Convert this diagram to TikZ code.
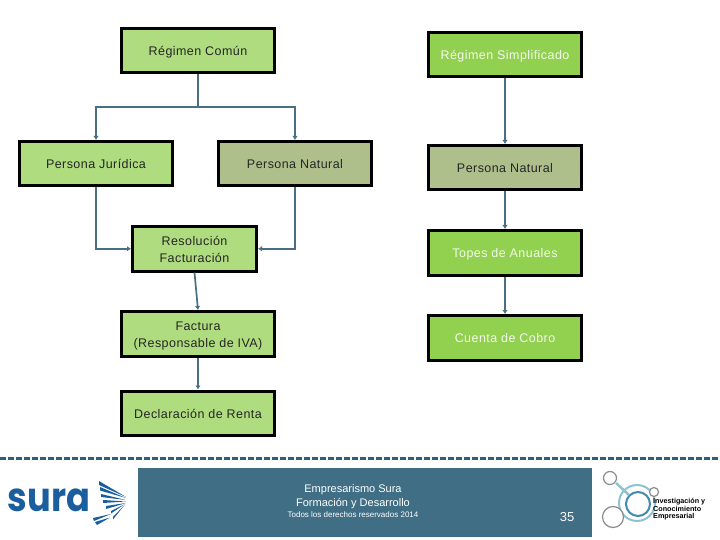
\documentclass[tikz,border=0pt]{standalone}
\usepackage{fontspec}
\setmainfont{Liberation Sans}
\newfontfamily\boxfont[LetterSpace=3.5]{Liberation Sans}
\newfontfamily\logofont{Poppins}
\usetikzlibrary{arrows.meta}
\definecolor{boxgreen}{HTML}{AEDC7E}
\definecolor{boxolive}{HTML}{AFBF8B}
\definecolor{boxbright}{HTML}{92D050}
\definecolor{linkblue}{HTML}{4A6E83}
\definecolor{bandblue}{HTML}{3F6E85}
\definecolor{dashblue}{HTML}{2F5F7A}
\definecolor{surablue}{HTML}{1B5E9E}
\definecolor{ringa}{HTML}{8FC3D3}
\definecolor{ringb}{HTML}{3F8CAC}
\tikzset{
  flowbox/.style={draw=black,line width=3pt,anchor=north west,inner sep=0pt,align=center,minimum width=153pt,minimum height=44.5pt,font=\boxfont\fontsize{12.5}{17}\selectfont,text=black!85},
  lightbox/.style={flowbox,fill=boxbright,text=white!88!boxbright},
  link/.style={draw=linkblue,line width=1.7pt,-{Latex[length=4pt,width=5.5pt]}},
  plainlink/.style={draw=linkblue,line width=1.7pt},
  foot/.style={text=white,align=center,inner sep=0pt},
  blade/.style={fill=surablue,draw=none},
  satellite/.style={draw=gray!90,line width=1.2pt,fill=white}
}
\begin{document}
\begin{tikzpicture}[x=1pt,y=-1pt]
\useasboundingbox (0,0) rectangle (720,540);
\fill[white] (0,0) rectangle (720,540);
% left column
\node[flowbox,fill=boxgreen] (rc) at (120,27) {\rule{0pt}{13pt}Régimen Común};
\node[flowbox,fill=boxgreen] (pj) at (18,140) {Persona Jurídica};
\node[flowbox,fill=boxolive] (pn) at (217,140) {Persona Natural};
\node[flowbox,fill=boxgreen,minimum width=124pt] (rf) at (131,225) {\rule{0pt}{11pt}Resolución\\Facturación};
\node[flowbox,fill=boxgreen] (fa) at (120,310) {\rule{0pt}{13pt}Factura\\(Responsable de IVA)};
\node[flowbox,fill=boxgreen] (dr) at (120,389.5) {\rule{0pt}{11pt}Declaración de Renta};
% right column
\node[lightbox] (rs) at (427,31) {\rule{0pt}{12pt}Régimen Simplificado};
\node[flowbox,fill=boxolive] (pn2) at (427,144) {Persona Natural};
\node[lightbox] (tp) at (427,229) {\rule{0pt}{13pt}Topes de Anuales};
\node[lightbox] (cc) at (427,314) {Cuenta de Cobro};
% connectors
\coordinate (bus) at (198,107);
\draw[plainlink] (rc.south) -- (bus);
\draw[link] (bus) -| (pj.north);
\draw[link] (bus) -| (pn.north);
\draw[link] (pj.south) |- (rf.west);
\draw[link] (pn.south) |- (rf.east);
\draw[link] (rf.south) -- (fa.north);
\draw[link] (fa.south) -- (dr.north);
\draw[link] (rs.south) -- (pn2.north);
\draw[link] (pn2.south) -- (tp.north);
\draw[link] (tp.south) -- (cc.north);
% footer
\draw[dashblue,line width=2.2pt,dash pattern=on 5.5pt off 2.5pt] (0,458.5) -- (720,458.5);
\fill[bandblue] (138,468) rectangle (592,537);
\node[foot,font=\fontsize{11}{14}\selectfont] (ft) at (353,497) {Empresarismo Sura\\Formación y Desarrollo};
\node[foot,font=\fontsize{8}{9}\selectfont] (ft2) at (353,515) {Todos los derechos reservados 2014};
\node[foot,font=\fontsize{13}{14}\selectfont] (num) at (567,517) {35};
% sura logo
\node[text=surablue,inner sep=0pt,xscale=0.88,font=\logofont\fontsize{40}{40}\selectfont\bfseries] (sura) at (49,500) {sura};
\foreach \a/\b/\c/\d/\e in {99/481/126/497/4, 100/487/126/498/3.5, 101/494/126/500/3, 103/500/126/501.5/3, 106/506/126/503/3, 111/511/125/504/2.5, 113/517/124.5/505/2.5}
  \fill[blade] (\a,\b) -- (\c,\d) -- (\a,\b+\e) -- cycle;
\fill[blade] (93,518) -- (111,514) -- (94,521) -- cycle;
\fill[blade] (95,522) -- (110,517.5) -- (97,525) -- cycle;
% research logo
\draw[ringa,line width=2pt] (637,503) circle (18);
\draw[ringb,line width=2pt] (638,504) circle (12);
\draw[ringa,line width=2.5pt] (616,483) -- (629,495);
\draw[satellite] (610,478) circle (6.5);
\draw[satellite] (654,492) circle (4.5);
\draw[satellite] (613,517) circle (10.5);
\node[anchor=west,align=left,inner sep=0pt,font=\fontsize{7.2}{7.6}\selectfont\bfseries,text=black] (inv) at (653,509.5) {Investigación y\\Conocimiento\\Empresarial};
\end{tikzpicture}
\end{document}
